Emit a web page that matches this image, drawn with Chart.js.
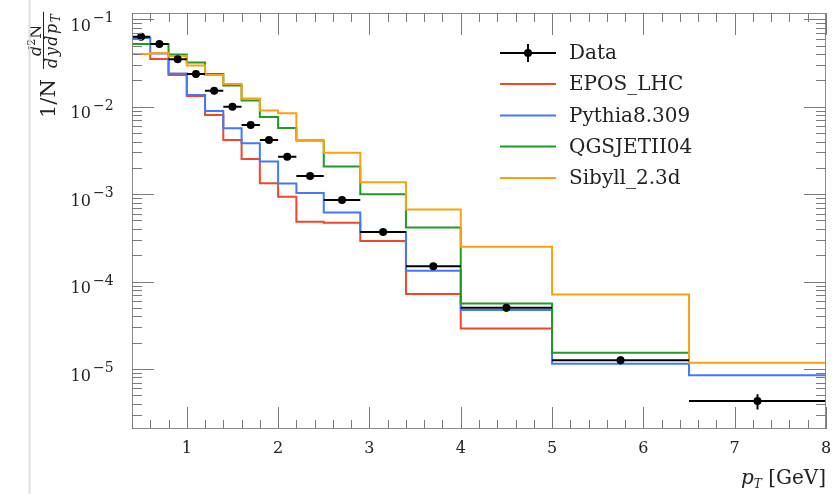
<!DOCTYPE html>
<html>
<head>
<meta charset="utf-8">
<script src="https://cdn.jsdelivr.net/npm/chart.js@4.4.1/dist/chart.umd.min.js"></script>
<style>
    html, body { margin: 0; padding: 0; background: #fff; }
    canvas { display: block; }
</style>
</head>
<body>
<canvas id="chart-pt" width="833" height="494"></canvas>
<script>
// pT bin edges [GeV]
var binEdges = [0.4, 0.6, 0.8, 1.0, 1.2, 1.4, 1.6, 1.8, 2.0, 2.2, 2.5, 2.9, 3.4, 4.0, 5.0, 6.5, 8.0];

// measured spectrum, one value per bin, with relative vertical error
var dataValues = [0.0632, 0.0521, 0.0348, 0.0237, 0.0152, 0.0100, 0.00618, 0.00416, 0.00268, 0.00161, 0.000857, 0.000368, 0.000150, 0.0000501, 0.0000126, 0.0000043];
var dataErrRel = [0.02, 0.02, 0.02, 0.02, 0.02, 0.02, 0.02, 0.02, 0.02, 0.02, 0.02, 0.03, 0.04, 0.10, 0.10, 0.20];

// generator predictions (histograms), bins start at 0.4
var eposValues   = [0.0401, 0.0352, 0.0231, 0.01325, 0.00804, 0.00416, 0.00252, 0.00133, 0.000934, 0.000483, 0.000471, 0.000291, 0.0000719, 0.0000290];
var pythiaValues = [0.0611, 0.0406, 0.0240, 0.0136, 0.00893, 0.00566, 0.00381, 0.00237, 0.00132, 0.00103, 0.000616, 0.000368, 0.000133, 0.0000472, 0.0000115, 0.0000085];
var qgsjetValues = [0.0520, 0.0520, 0.0396, 0.0321, 0.0237, 0.0175, 0.01177, 0.00762, 0.00571, 0.00410, 0.00207, 0.00100, 0.000415, 0.0000563, 0.0000153];
var sibyllValues = [0.0401, 0.0411, 0.0380, 0.0296, 0.0231, 0.0182, 0.0124, 0.00905, 0.00840, 0.00416, 0.00298, 0.00137, 0.000667, 0.000250, 0.0000710, 0.0000118];

var xTickValues = [1, 2, 3, 4, 5, 6, 7, 8];
var yTickExponents = [-1, -2, -3, -4, -5];

var legendNames = ['Data', 'EPOS_LHC', 'Pythia8.309', 'QGSJETII04', 'Sibyll_2.3d'];
var legendColors = ['#000000', '#f0462b', '#4079ff', '#1f9b26', '#ff9f0a'];

var serif = '"DejaVu Serif", "Liberation Serif", serif';

function stepPoints(values) {
    var pts = [];
    for (var i = 0; i < values.length; i++) {
        pts.push({x: binEdges[i], y: values[i]});
    }
    pts.push({x: binEdges[values.length], y: values[values.length - 1]});
    return pts;
}

function histo(label, values, color, order) {
    return {
        label: label,
        data: stepPoints(values),
        // horizontal first, then vertical at the next edge
        stepped: 'before',
        borderColor: color,
        borderWidth: 2,
        pointRadius: 0,
        fill: false,
        order: order
    };
}

var dataPoints = dataValues.map(function (v, i) {
    return {x: (binEdges[i] + binEdges[i + 1]) / 2, y: v};
});

var axisFrame = {
    id: 'axisFrame',
    afterDatasetsDraw: function (chart) {
        var ctx = chart.ctx;
        var xs = chart.scales.x, ys = chart.scales.y;
        var a = chart.chartArea;
        var i;
        ctx.save();

        // data error bars
        ctx.strokeStyle = '#000';
        ctx.lineWidth = 2;
        ctx.beginPath();
        for (i = 0; i < dataValues.length; i++) {
            var py = ys.getPixelForValue(dataValues[i]);
            var px = xs.getPixelForValue(dataPoints[i].x);
            ctx.moveTo(xs.getPixelForValue(binEdges[i]), py);
            ctx.lineTo(xs.getPixelForValue(binEdges[i + 1]), py);
            ctx.moveTo(px, ys.getPixelForValue(dataValues[i] * (1 - dataErrRel[i])));
            ctx.lineTo(px, ys.getPixelForValue(dataValues[i] * (1 + dataErrRel[i])));
        }
        ctx.stroke();

        // frame
        ctx.strokeStyle = '#8a8a8a';
        ctx.lineWidth = 1;
        ctx.strokeRect(Math.round(a.left) + 0.5, Math.round(a.top) + 0.5,
            Math.round(a.right - a.left) - 1, Math.round(a.bottom - a.top) - 1);

        // x ticks, all sides
        ctx.strokeStyle = '#7a7a7a';
        ctx.beginPath();
        for (var k = 2; k <= 40; k++) {
            var xv = k * 0.2;
            var major = Math.abs(xv - Math.round(xv)) < 1e-6;
            var len = major ? 22 : 9;
            var tx = Math.round(xs.getPixelForValue(xv)) + 0.5;
            ctx.moveTo(tx, a.bottom);
            ctx.lineTo(tx, a.bottom - len);
            ctx.moveTo(tx, a.top);
            ctx.lineTo(tx, a.top + len);
        }
        // y ticks
        for (var e = -6; e <= -1; e++) {
            for (var m = 1; m <= 9; m++) {
                var yv = m * Math.pow(10, e);
                if (yv < ys.min || yv > ys.max) continue;
                var ylen = m === 1 ? 22 : 10;
                var ty = Math.round(ys.getPixelForValue(yv)) + 0.5;
                ctx.moveTo(a.left, ty);
                ctx.lineTo(a.left + ylen, ty);
                ctx.moveTo(a.right, ty);
                ctx.lineTo(a.right - ylen, ty);
            }
        }
        ctx.stroke();

        // tick labels
        ctx.fillStyle = '#222';
        ctx.textAlign = 'center';
        ctx.textBaseline = 'alphabetic';
        ctx.font = '16px ' + serif;
        xTickValues.forEach(function (t) {
            ctx.fillText(String(t), xs.getPixelForValue(t), 453);
        });
        yTickExponents.forEach(function (ex) {
            var y0 = ys.getPixelForValue(Math.pow(10, ex));
            ctx.textAlign = 'left';
            ctx.font = '16px ' + serif;
            ctx.fillText('10', 70.5, y0 + 11.5);
            ctx.font = '14px ' + serif;
            ctx.fillText('\u2212' + Math.abs(ex), 93, y0 + 3);
        });

        // x title
        ctx.textAlign = 'left';
        ctx.font = '20px ' + serif;
        var gev = ' [GeV]';
        var wg = ctx.measureText(gev).width;
        ctx.font = '12px ' + serif;
        var wT = ctx.measureText('T').width;
        ctx.font = 'italic 20px ' + serif;
        var wp = ctx.measureText('p').width;
        var x0 = 826 - wg - wT - wp;
        ctx.fillText('p', x0, 484);
        ctx.font = 'italic 12px ' + serif;
        ctx.fillText('T', x0 + wp, 488);
        ctx.font = '20px ' + serif;
        ctx.fillText(gev, x0 + wp + wT, 484);

        // y title, rotated
        ctx.save();
        ctx.translate(55, 118);
        ctx.rotate(-Math.PI / 2);
        ctx.font = '21px ' + serif;
        ctx.fillText('1/N', 0, 0);
        ctx.letterSpacing = '1.5px';
        ctx.font = 'italic 16px ' + serif;
        var wd = ctx.measureText('dydp').width;
        ctx.font = 'italic 12px ' + serif;
        var wsub = ctx.measureText('T').width;
        var denW = wd + wsub;
        var u0 = 50;
        ctx.font = 'italic 16px ' + serif;
        ctx.fillText('dydp', u0, 2);
        ctx.font = 'italic 12px ' + serif;
        ctx.fillText('T', u0 + wd, 5);
        ctx.letterSpacing = '0px';
        ctx.font = 'italic 16px ' + serif;
        var wdn = ctx.measureText('d').width;
        ctx.font = '11px ' + serif;
        var w2 = ctx.measureText('2').width;
        ctx.font = '16px ' + serif;
        var wN = ctx.measureText('N').width;
        var numW = wdn + w2 + wN;
        var un = u0 + (denW - numW) / 2;
        ctx.font = 'italic 16px ' + serif;
        ctx.fillText('d', un, -14);
        ctx.font = '11px ' + serif;
        ctx.fillText('2', un + wdn, -20.5);
        ctx.font = '16px ' + serif;
        ctx.fillText('N', un + wdn + w2, -14);
        ctx.strokeStyle = '#222';
        ctx.lineWidth = 1;
        ctx.beginPath();
        ctx.moveTo(u0 - 1, -11.5);
        ctx.lineTo(u0 + denW + 1, -11.5);
        ctx.stroke();
        ctx.restore();

        // legend
        var rows = [53, 84, 115.5, 146.5, 178];
        for (i = 0; i < legendNames.length; i++) {
            ctx.strokeStyle = legendColors[i];
            ctx.lineWidth = 2;
            ctx.beginPath();
            ctx.moveTo(500, rows[i]);
            ctx.lineTo(556, rows[i]);
            if (i === 0) {
                ctx.moveTo(528, rows[i] - 9);
                ctx.lineTo(528, rows[i] + 9);
            }
            ctx.stroke();
            if (i === 0) {
                ctx.fillStyle = '#000';
                ctx.beginPath();
                ctx.arc(528, rows[i], 4, 0, Math.PI * 2);
                ctx.fill();
            }
            ctx.fillStyle = '#222';
            ctx.font = '20px ' + serif;
            ctx.textBaseline = 'middle';
            ctx.fillText(legendNames[i], 569, rows[i] + 1);
            ctx.textBaseline = 'alphabetic';
        }

        // thin page rule at the left
        ctx.strokeStyle = '#dedede';
        ctx.beginPath();
        ctx.moveTo(29.5, 0);
        ctx.lineTo(29.5, 494);
        ctx.stroke();

        ctx.restore();
    }
};

var ctx = document.getElementById('chart-pt').getContext('2d');
new Chart(ctx, {
    type: 'line',
    data: {
        datasets: [
            {
                label: 'Data',
                data: dataPoints,
                showLine: false,
                pointRadius: 4,
                pointBackgroundColor: '#000',
                pointBorderColor: '#000',
                pointBorderWidth: 0,
                order: 0
            },
            histo('EPOS_LHC', eposValues, legendColors[1], 4),
            histo('Pythia8.309', pythiaValues, legendColors[2], 3),
            histo('QGSJETII04', qgsjetValues, legendColors[3], 2),
            histo('Sibyll_2.3d', sibyllValues, legendColors[4], 1)
        ]
    },
    options: {
        responsive: false,
        animation: false,
        events: [],
        layout: {padding: {left: 132, right: 7, top: 13, bottom: 65}},
        plugins: {
            legend: {display: false},
            tooltip: {enabled: false}
        },
        scales: {
            x: {type: 'linear', min: 0.4, max: 8, display: false},
            y: {type: 'logarithmic', min: 2.06e-6, max: 0.118, display: false}
        }
    },
    plugins: [axisFrame]
});
</script>
</body>
</html>
